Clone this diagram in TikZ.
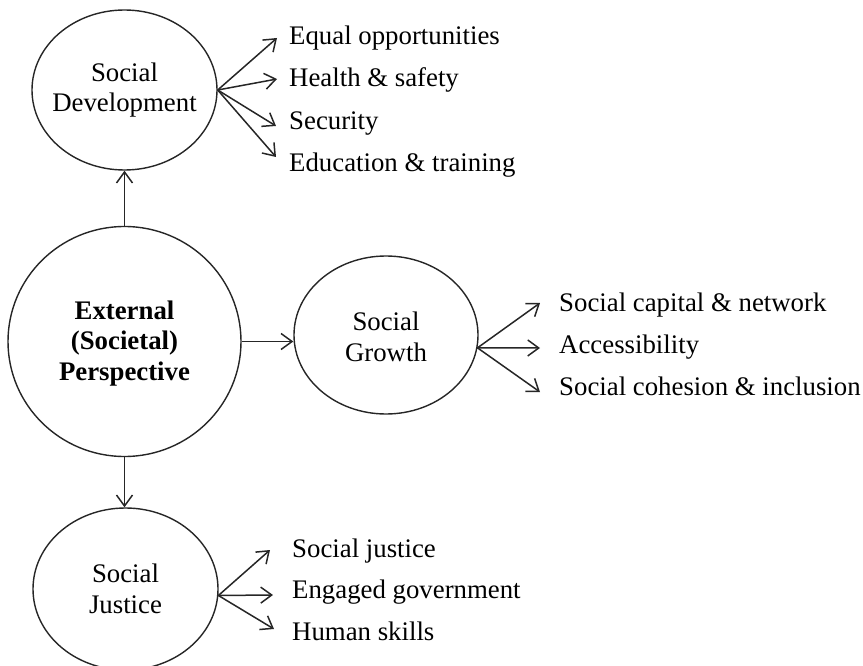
\documentclass[tikz,border=0pt]{standalone}
\usepackage{fontspec}
\setmainfont{Liberation Serif}
\usetikzlibrary{arrows.meta,shapes.geometric}
\begin{document}
\begin{tikzpicture}[x=1pt,y=-1pt,
  bubble/.style={draw=black!85, ellipse, inner sep=0pt, line width=1.4pt},
  caption/.style={inner sep=0pt, align=center, text=black,
    font=\fontsize{26.8pt}{30.5pt}\selectfont},
  item/.style={inner sep=0pt, anchor=base west, text=black,
    font=\fontsize{26.8pt}{30.5pt}\selectfont},
  link/.style={draw=black!85, line width=1.5pt,
    -{Straight Barb[length=11pt,width=16pt]}},
]
\useasboundingbox (0,0) rectangle (863,666);

% outlines
\node[bubble, minimum width=233pt, minimum height=230pt] (ext) at (124.5,341.5) {};
\node[bubble, minimum width=185pt, minimum height=160pt] (sd)  at (124.5,90) {};
\node[bubble, minimum width=184pt, minimum height=158pt] (sg)  at (386,335) {};
\node[bubble, minimum width=185pt, minimum height=162pt] (sj)  at (125.5,589) {};

% captions inside the outlines
\node[caption, font=\fontsize{26.8pt}{30.5pt}\selectfont\bfseries] (extT) at ([yshift=-2pt]ext.center) {External\\(Societal)\\Perspective};
\node[caption] (sdT) at (sd.center) {Social\\Development};
\node[caption] (sgT) at ([yshift=-2pt]sg.center) {Social\\Growth};
\node[caption] (sjT) at (sj.center) {Social\\Justice};

% items of Social Development
\node[item] (eq)  at (289,45)  {Equal opportunities};
\node[item] (hs)  at (289,87)  {Health \& safety};
\node[item] (sec) at (289,130) {Security};
\node[item] (edu) at (289,172) {Education \& training};

% items of Social Growth
\node[item] (cap) at (559,311) {Social capital \& network};
\node[item] (acc) at (559,353) {Accessibility};
\node[item] (coh) at (559,395) {Social cohesion \& inclusion};

% items of Social Justice
\node[item] (jus) at (292,557) {Social justice};
\node[item] (gov) at (292,598) {Engaged government};
\node[item] (hum) at (292,640) {Human skills};

% links from the central perspective
\draw[link] (ext.north) -- (sd.south);
\draw[link] (ext.east) -- (sg.west |- ext.east);
\draw[link] (ext.south) -- (ext.south |- sj.north);

% fans to the items
\draw[link] (sd.east) -- ([shift={(-12,-7)}]eq.base west);
\draw[link] (sd.east) -- ([shift={(-12,-8)}]hs.base west);
\draw[link] (sd.east) -- ([shift={(-13,-4)}]sec.base west);
\draw[link] (sd.east) -- ([shift={(-13,-15)}]edu.base west);

\draw[link] (sg.-8) -- ([shift={(-19,-8)}]cap.base west);
\draw[link] (sg.-8) -- ([shift={(-19,-5)}]acc.base west);
\draw[link] (sg.-8) -- ([shift={(-19,-3)}]coh.base west);

\draw[link] (sj.-4) -- ([shift={(-22,-7)}]jus.base west);
\draw[link] (sj.-4) -- ([shift={(-19,-3)}]gov.base west);
\draw[link] (sj.-4) -- ([shift={(-18,-11)}]hum.base west);
\end{tikzpicture}
\end{document}
